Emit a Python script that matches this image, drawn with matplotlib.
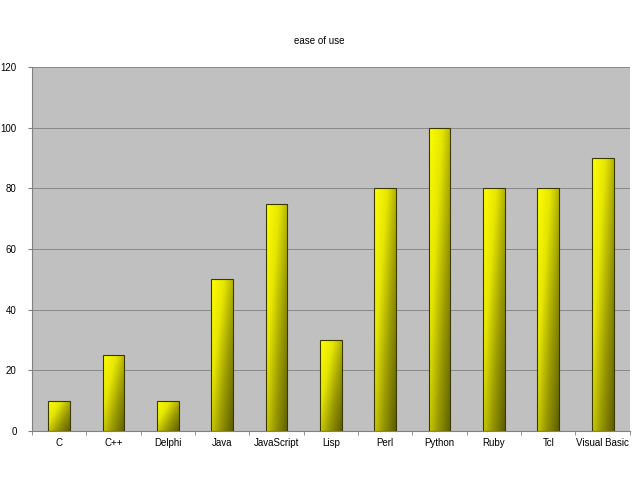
import numpy as np
import matplotlib
matplotlib.use("Agg")
import matplotlib.pyplot as plt
from matplotlib.colors import LinearSegmentedColormap
from matplotlib.patches import Rectangle

languages = ["C", "C++", "Delphi", "Java", "JavaScript", "Lisp", "Perl",
             "Python", "Ruby", "Tcl", "Visual Basic"]
ease = [10, 25, 10, 50, 75, 30, 80, 100, 80, 80, 90]
y_ticks = [0, 20, 40, 60, 80, 100, 120]

plt.rcParams["font.family"] = ["Liberation Sans", "DejaVu Sans"]

fig = plt.figure(figsize=(6.38, 4.78), dpi=100)
ax = fig.add_axes([0.0502, 0.0983, 0.937, 0.7615])
ax.set_facecolor("#c0c0c0")

x = np.arange(len(languages))
bar_w = 0.4
ax.set_xlim(-0.5, len(languages) - 0.5)
ax.set_ylim(0, 120)

# yellow -> dark olive gradient, diagonal (top-left light, bottom-right dark)
cmap = LinearSegmentedColormap.from_list("yel", ["#ffff00", "#e6e600", "#9a9a00", "#5e5e00"])
gx, gy = np.meshgrid(np.linspace(0, 1, 60), np.linspace(0, 1, 120))
grad = 0.6 * gx + 0.5 * gy

bars = ax.bar(x, ease, width=bar_w, color="none", edgecolor="#3a3a00",
              linewidth=0.8, zorder=3)
for b in bars:
    bx, by = b.get_x(), b.get_y()
    w, h = b.get_width(), b.get_height()
    im = ax.imshow(grad, cmap=cmap, vmin=0, vmax=1.1, aspect="auto",
                   extent=(bx, bx + w, by, by + h), origin="upper",
                   zorder=2, interpolation="bilinear")
    clip = Rectangle((bx, by), w, h, transform=ax.transData)
    im.set_clip_path(clip)

ax.set_yticks(y_ticks)
ax.yaxis.grid(True, color="#808080", linewidth=0.6, zorder=1)
ax.set_axisbelow(True)

ax.set_xticks(x)
ax.set_xticklabels(languages)
ax.set_xticks(np.arange(-0.5, len(languages), 1), minor=True)
ax.tick_params(axis="x", which="major", length=0, pad=5, labelsize=7)
ax.tick_params(axis="x", which="minor", length=3, color="#808080")
ax.tick_params(axis="y", length=3, color="#808080", labelsize=7, pad=8)

for side in ["top", "right"]:
    ax.spines[side].set_visible(False)
ax.spines["left"].set_color("#808080")
ax.spines["bottom"].set_color("#808080")

fig.text(0.5, 0.915, "ease of use", ha="center", va="center", fontsize=7)

fig.savefig("out.png", dpi=100)
